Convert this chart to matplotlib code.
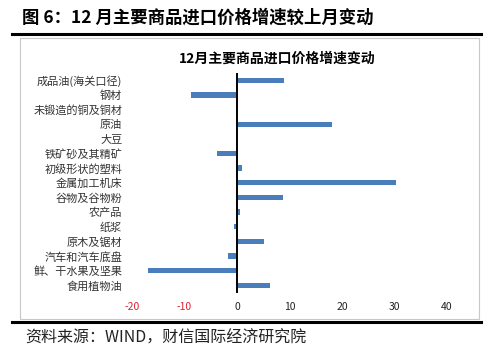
import matplotlib.pyplot as plt
from matplotlib.patches import Rectangle
from matplotlib.lines import Line2D

plt.rcParams['font.family'] = ['Noto Sans CJK SC', 'DejaVu Sans']

categories = ['成品油(海关口径)', '钢材', '未锻造的铜及铜材', '原油', '大豆',
              '铁矿砂及其精矿', '初级形状的塑料', '金属加工机床', '谷物及谷物粉',
              '农产品', '纸浆', '原木及锯材', '汽车和汽车底盘', '鲜、干水果及坚果',
              '食用植物油']
values = [9.0, -8.7, -0.2, 18.0, 0.0, -3.8, 0.9, 30.3, 8.8, 0.5, -0.6, 5.1,
          -1.8, -17.0, 6.3]
xticks = [-20, -10, 0, 10, 20, 30, 40]

fig = plt.figure(figsize=(5, 3.59), dpi=100)

# header / footer rules and chart frame
fig.add_artist(Line2D([12/500, 481/500], [1-34/359, 1-34/359], color='black', lw=2.2))
fig.add_artist(Line2D([12/500, 481/500], [1-322/359, 1-322/359], color='black', lw=2.2))
fig.add_artist(Rectangle((20/500, 1-319/359), 459/500, 281/359, fill=False,
                         edgecolor='#c8c8c8', lw=0.8))

fig.text(22/500, 1-18/359, '图 6：12 月主要商品进口价格增速较上月变动',
         fontsize=12.5, fontweight='bold', va='center', ha='left')
fig.text(25/500, 1-338/359, '资料来源：WIND，财信国际经济研究院',
         fontsize=11.5, style='italic', va='center', ha='left', color='#222222')

ax = fig.add_axes([132/500, 1-292.5/359, 315/500, 219.5/359])
y = list(range(len(categories)))
ax.barh(y, values, height=0.36, color='#4a7ebb')
ax.axvline(0, color='black', lw=1.4)
ax.set_xlim(-20, 40)
ax.set_ylim(len(categories) - 0.5, -0.5)
ax.set_yticks(y)
ax.set_yticklabels(categories, fontsize=8, color='#333333')
ax.set_xticks(xticks)
ax.set_xticklabels([str(t) for t in xticks], fontsize=7.5)
for lab, t in zip(ax.get_xticklabels(), xticks):
    lab.set_color('#e02030' if t < 0 else '#222222')
ax.tick_params(axis='both', length=0)
ax.tick_params(axis='y', pad=7)
ax.tick_params(axis='x', pad=7)
for s in ax.spines.values():
    s.set_visible(False)

fig.text(277/500, 1-59/359, '12月主要商品进口价格增速变动', fontsize=10,
         fontweight='bold', ha='center', va='center')

fig.savefig('out.png', dpi=100)
